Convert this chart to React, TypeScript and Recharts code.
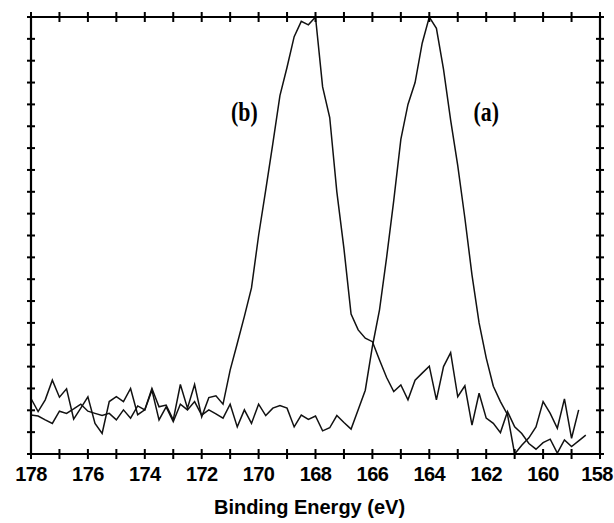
import { LineChart, Line, XAxis, YAxis, ReferenceDot } from "recharts";

// binding energy grid (eV), 0.25 eV steps
const energies = [
  178, 177.75, 177.5, 177.25, 177, 176.75, 176.5, 176.25, 176, 175.75,
  175.5, 175.25, 175, 174.75, 174.5, 174.25, 174, 173.75, 173.5, 173.25,
  173, 172.75, 172.5, 172.25, 172, 171.75, 171.5, 171.25, 171, 170.75,
  170.5, 170.25, 170, 169.75, 169.5, 169.25, 169, 168.75, 168.5, 168.25,
  168, 167.75, 167.5, 167.25, 167, 166.75, 166.5, 166.25, 166, 165.75,
  165.5, 165.25, 165, 164.75, 164.5, 164.25, 164, 163.75, 163.5, 163.25,
  163, 162.75, 162.5, 162.25, 162, 161.75, 161.5, 161.25, 161, 160.75,
  160.5, 160.25, 160, 159.75, 159.5, 159.25, 159, 158.75, 158.5,
];

// spectrum (a), peak near 164 eV
const spectrumA = [
  8.9, 8.7, 7.8, 7.0, 9.8, 9.3, 10.3, 11.4, 9.8, 9.3,
  8.8, 9.3, 7.8, 10.1, 8.2, 11.0, 10.1, 14.6, 7.8, 10.8,
  7.4, 11.4, 10.1, 12.0, 8.9, 10.1, 9.2, 8.2, 11.4, 6.2,
  10.1, 7.0, 11.4, 8.8, 10.5, 11.1, 10.5, 6.2, 8.9, 7.9,
  8.7, 5.3, 6.0, 8.8, 7.2, 5.7, 10.1, 14.6, 24.6, 33,
  45, 58, 72, 80, 85, 94, 100, 97.4, 88, 76.4,
  66, 54, 41, 30, 22, 15.5, 12, 9, 0, 2.0,
  3.7, 6.2, 12.0, 9.3, 5.9, 12.6, 3.6, 10.1,
];

// spectrum (b), peak near 168 eV
const spectrumB = [
  12.7, 9.7, 12.4, 16.9, 13.0, 14.9, 8.0, 10.5, 13.1, 7.0,
  4.7, 12.0, 13.1, 12.0, 15.0, 9.0, 10.1, 15.0, 10.8, 11.2,
  7.8, 15.9, 10.5, 15.9, 8.5, 12.9, 13.3, 11.4, 19.2, 25.3,
  31.5, 38, 50, 60.4, 71, 82, 88.5, 95.5, 99, 98.2,
  100, 84, 77, 60, 47, 32, 28.4, 26.5, 25.7, 21.5,
  17.5, 14.3, 15.8, 12.4, 16.9, 18.5, 20.1, 12.4, 20, 23.2,
  13.1, 15.6, 6.6, 13.9, 8.2, 7.0, 4.9, 9.7, 6.2, 4.7,
  2.4, 1.1, 2.6, 3.4, 0.2, 3.2, 1.7, 3.0, 4.3,
];

const xTicks = [
  178, 177, 176, 175, 174, 173, 172, 171, 170, 169, 168,
  167, 166, 165, 164, 163, 162, 161, 160, 159, 158,
];
const yTicks = [
  0, 5, 10, 15, 20, 25, 30, 35, 40, 45, 50,
  55, 60, 65, 70, 75, 80, 85, 90, 95, 100,
];

const data = energies.map((e, i) => ({ e, a: spectrumA[i], b: spectrumB[i] }));

const FONT = "'Liberation Sans', Arial, sans-serif";
const INK = "#000";

const W = 614;
const H = 523;
const margin = { top: 16, right: 13, bottom: 8, left: 30 };
const AXIS_W = 1;
// width of the plotting area, used to mirror the left ticks onto the right frame
const PLOT_W = W - margin.left - margin.right - 2 * AXIS_W;

// tick marks cross the frame, so they are drawn as small rects centred on the axis
const BottomTick = (props: any) => {
  const { x, y, payload } = props;
  const v = payload.value;
  const lx = v === 158 ? x - 3 : x;
  return (
    <g>
      <rect x={x - 1} y={y - 5} width={2} height={10} fill={INK} />
      {v % 2 === 0 && (
        <text
          x={lx}
          y={y + 27}
          textAnchor="middle"
          fontFamily={FONT}
          fontWeight={700}
          fontSize={20}
          letterSpacing={-0.6}
          fill={INK}
          stroke="none"
        >
          {v}
        </text>
      )}
    </g>
  );
};

const TopTick = (props: any) => {
  const { x, y } = props;
  return <rect x={x - 1} y={y - 5} width={2} height={10} fill={INK} />;
};

// left tick plus its twin on the right-hand frame
const SideTick = (props: any) => {
  const { x, y } = props;
  return (
    <g>
      <rect x={x - 4} y={y - 1} width={8} height={2} fill={INK} />
      <rect x={x + PLOT_W - 4} y={y - 1} width={8} height={2} fill={INK} />
    </g>
  );
};

const NoTick = () => <g />;

const PeakLabel = (text: string) => (props: any) => {
  const { viewBox } = props;
  const cx = viewBox.x + viewBox.width / 2;
  const cy = viewBox.y + viewBox.height / 2;
  return (
    <text
      transform={`translate(${cx},${cy}) scale(0.78,1)`}
      textAnchor="middle"
      dominantBaseline="central"
      fontFamily="'Liberation Serif', 'Times New Roman', serif"
      fontWeight={700}
      fontSize={28}
      fill={INK}
    >
      {text}
    </text>
  );
};

const axisLine = { stroke: INK, strokeWidth: 2.2 };

export default function App() {
  return (
    <div style={{ position: "absolute", left: 0, top: 0, background: "#fff" }}>
      <LineChart width={W} height={H} data={data} margin={margin}>
        <XAxis
          xAxisId="bottom"
          dataKey="e"
          type="number"
          domain={[158, 178]}
          reversed
          ticks={xTicks}
          interval={0}
          tickSize={0}
          tickMargin={0}
          tickLine={false}
          stroke={INK}
          axisLine={axisLine}
          tick={<BottomTick />}
          height={61}
          label={{
            value: "Binding Energy (eV)",
            position: "insideBottom",
            offset: 1,
            dx: -6,
            fill: INK,
            fontFamily: FONT,
            fontWeight: 700,
            fontSize: 20,
          }}
        />
        <XAxis
          xAxisId="top"
          orientation="top"
          dataKey="e"
          type="number"
          domain={[158, 178]}
          reversed
          ticks={xTicks}
          interval={0}
          tickSize={0}
          tickMargin={0}
          tickLine={false}
          stroke={INK}
          axisLine={axisLine}
          tick={<TopTick />}
          height={1}
        />
        <YAxis
          yAxisId="left"
          type="number"
          domain={[0, 100]}
          ticks={yTicks}
          interval={0}
          tickSize={0}
          tickMargin={0}
          tickLine={false}
          stroke={INK}
          axisLine={axisLine}
          tick={<SideTick />}
          width={AXIS_W}
        />
        <YAxis
          yAxisId="right"
          orientation="right"
          type="number"
          domain={[0, 100]}
          ticks={yTicks}
          interval={0}
          tickSize={0}
          tickMargin={0}
          tickLine={false}
          stroke={INK}
          axisLine={axisLine}
          tick={<NoTick />}
          width={AXIS_W}
        />
        <Line
          xAxisId="bottom"
          yAxisId="left"
          type="linear"
          dataKey="a"
          stroke="#111"
          strokeWidth={1.5}
          dot={false}
          isAnimationActive={false}
        />
        <Line
          xAxisId="bottom"
          yAxisId="left"
          type="linear"
          dataKey="b"
          stroke="#111"
          strokeWidth={1.5}
          dot={false}
          isAnimationActive={false}
        />
        <ReferenceDot
          xAxisId="bottom"
          yAxisId="left"
          x={170.5}
          y={78.3}
          r={1}
          fill="none"
          stroke="none"
          label={{ content: PeakLabel("(b)") }}
        />
        <ReferenceDot
          xAxisId="bottom"
          yAxisId="left"
          x={162}
          y={78.3}
          r={1}
          fill="none"
          stroke="none"
          label={{ content: PeakLabel("(a)") }}
        />
      </LineChart>
    </div>
  );
}
